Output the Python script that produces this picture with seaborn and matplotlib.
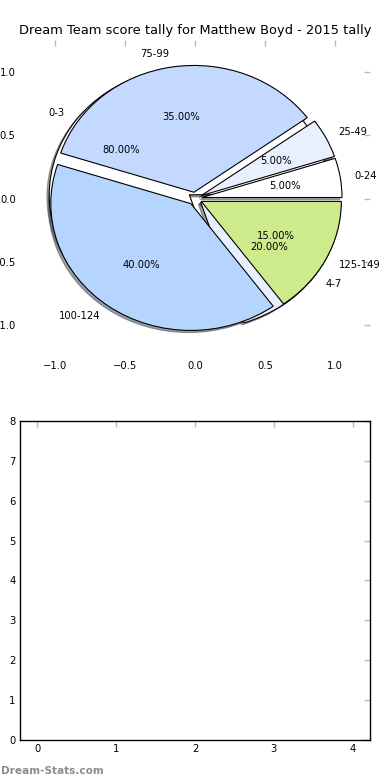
#!/usr/bin/env python3
"""
Dream Team score tally pie (Matthew Boyd, 2015) + empty lower panel
"""

import matplotlib
matplotlib.use('Agg')
import matplotlib.pyplot as plt
import seaborn as sns

# 样式
sns.set_style('white')
plt.rcParams['font.family'] = ['DejaVu Sans']
plt.rcParams['text.color'] = 'black'

# 数据
SCORE_LABELS = ['0-24', '25-49', '75-99', '100-124', '125-149']
SCORE_SHARE = [5, 5, 35, 40, 15]

GOAL_LABELS = ['0-3', '4-7']
GOAL_SHARE = [80, 20]

SLICE_COLORS = ['#FFFFFF', '#E8EFFF', '#C4D9FF', '#B5D5FF', '#CDEB8B']

TITLE = 'Dream Team score tally for Matthew Boyd - 2015 tally'
PIE_TICKS = [-1.0, -0.5, 0.0, 0.5, 1.0]
LOWER_XTICKS = [0, 1, 2, 3, 4]
LOWER_YTICKS = [0, 1, 2, 3, 4, 5, 6, 7, 8]

FS = 7.2
TICK_GREY = '#b8b8b8'


def style_ticks(ax):
    ax.tick_params(direction='in', length=4, width=1, color=TICK_GREY,
                   top=True, right=True, labelsize=FS, labelcolor='black', pad=3)


fig = plt.figure(figsize=(3.9, 7.8), dpi=100)
ax1 = fig.add_axes([0.051, 0.5423, 0.898, 0.4064])
ax2 = fig.add_axes([0.051, 0.0513, 0.898, 0.409])

# ============================================================================
# 上图：两个叠加的饼图
# ============================================================================
wedge_style = dict(edgecolor='black', linewidth=0.8)
shadow_style = dict(ox=-0.012, oy=-0.012)
ax1.pie(GOAL_SHARE, labels=GOAL_LABELS, colors=SLICE_COLORS[:len(GOAL_SHARE)],
        explode=[0.05] * len(GOAL_SHARE), autopct='%1.2f%%', shadow=shadow_style,
        wedgeprops=wedge_style, textprops={'fontsize': FS}, frame=True)
ax1.pie(SCORE_SHARE, labels=SCORE_LABELS, colors=SLICE_COLORS,
        explode=[0.05] * len(SCORE_SHARE), autopct='%1.2f%%', shadow=shadow_style,
        wedgeprops=wedge_style, textprops={'fontsize': FS}, frame=True)

ax1.set_aspect('auto')
ax1.set_frame_on(False)
ax1.set_xlim(-1.25, 1.25)
ax1.set_ylim(-1.25, 1.25)
ax1.set_xticks(PIE_TICKS)
ax1.set_yticks(PIE_TICKS)
style_ticks(ax1)
ax1.set_title(TITLE, fontsize=9.4, pad=4)

# ============================================================================
# 下图：空坐标轴
# ============================================================================
ax2.set_xlim(-0.22, 4.22)
ax2.set_ylim(0, 8)
ax2.set_xticks(LOWER_XTICKS)
ax2.set_yticks(LOWER_YTICKS)
for sp in ax2.spines.values():
    sp.set_color('black')
    sp.set_linewidth(1)
style_ticks(ax2)

# 水印
fig.text(0.002, 0.005, 'Dream-Stats.com', color='#8c8c8c', fontsize=7.6,
         fontweight='bold', ha='left', va='bottom')

plt.savefig('out.png', dpi=100)
plt.close()
print("✓ Generated out.png")
